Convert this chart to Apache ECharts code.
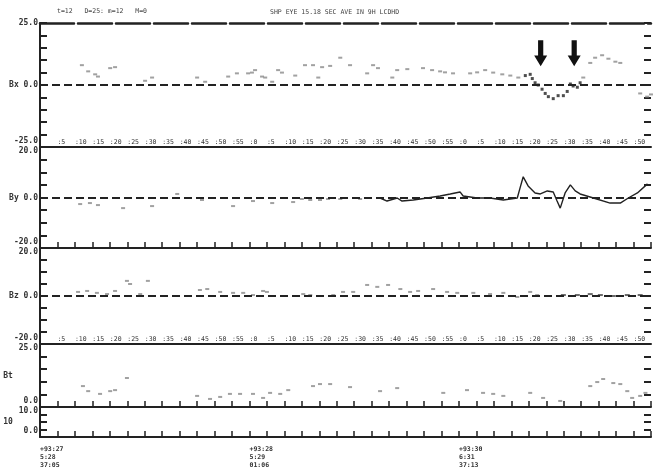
<!DOCTYPE html>
<html><head><meta charset="utf-8">
<script src="https://cdn.jsdelivr.net/npm/echarts@6/dist/echarts.min.js"></script>
<style>html,body{margin:0;padding:0;background:#fff}#c{width:659px;height:472px}</style>
</head><body><div id="c"></div>
<script>
// ---- data (time in minutes from plot start, values in nT) ----
const bxT = [12,13.8,15.8,16.6,20.1,21.5,30.1,32.1,45,47.3,53.9,56.4,59.6,60.7,61.6,63.6,64.5,66.5,68.2,69.3,73.1,75.9,78.2,79.7,80.8,83.1,86,88.8,93.7,95.4,96.8,100.9,102.3,105.2,109.7,112.3,114.6,116,118.3,123.2,125.2,127.5,129.8,132.4,134.7,137,155.6,157.6,159,161,162.8,164.8,166.2,171.9,173.9,175];
const bxV = [8,5.5,4.3,3.4,6.8,7.2,1.7,3,3,1.3,3.4,4.7,4.7,5,6,3.4,3,1.3,6,5,3.8,8,8,3,7.2,7.7,11,8,4.7,8,6.8,3,6,6.4,6.8,6,5.5,5.1,4.7,4.7,5.1,6,5,4.3,3.8,3,3,8.9,11,12,10.6,9.4,8.9,-3.4,-4.7,-3.8];
const bxDarkT = [139,140.4,141,141.8,142.7,143.8,144.7,145.6,147,148.4,149.9,151,151.9,152.7,153.9,154.7];
const bxDarkV = [3.8,4.3,2.6,0.9,0,-1.7,-3.4,-4.7,-5.5,-4.3,-4.3,-2.6,0.4,-0.4,-0.9,0.9];
const arrowT = [143.4,153];
const arrowV = [12.8,12.8];

const byT = [11.5,14.3,16.6,23.8,32.1,39.3,46.4,49.6,55.3,61,66.5,72.5,75,77.4,80.2,82.5,86,91.7];
const byV = [-2.6,-2.2,-3,-4.2,-3.4,1.4,-1,-0.2,-3.4,-1.4,-2.2,-1.8,-0.6,-1,-1,-0.6,-0.6,-0.6];
const byLineT = [97.4,99.4,102.3,103.7,106.9,110.9,114.6,117.5,120.3,121.2,125.2,128.9,132.7,136.7,137.5,138.4,139.8,141.8,143.3,145.3,147,148.1,149,150.4,151.9,153.3,154.7,158.5,163.3,166.2,168.5,171.1,174];
const byLineV = [-0.2,-1.4,-0.2,-1.4,-1,-0.2,0.6,1.4,2.2,0.6,-0.2,-0.2,-1,-0.2,3.8,8.2,4.6,1.8,1.4,2.6,2.2,-1.4,-4.2,1.8,5,2.6,1.4,-0.2,-2.2,-2.2,-0.2,1.8,5.4];

const bzT = [10.9,13.5,16.3,19.2,21.5,24.9,25.8,28.7,30.9,45.8,47.9,51.6,55.3,58.2,61,63.9,65,75.4,77.4,84,86.8,89.7,93.7,96.6,99.7,103.2,106,108.3,112.6,116.6,119.5,124.1,128.9,132.7,136.7,140.4,142.4];
const bzV = [1.7,2.1,1.3,0.8,2.1,6.3,5,0.8,6.3,2.5,2.9,1.7,1.3,1.3,0.4,2.1,1.7,0.8,0.4,0.4,1.7,1.7,4.6,3.8,4.6,2.9,1.7,2.1,2.9,1.7,1.3,1.3,0.8,1.3,-0.4,1.7,0.4];
const bzDarkT = [149.9,153.9,157.6,160.5,164.2,168.2,171.9];
const bzDarkV = [0.4,0.4,0.8,0.4,0,0.4,0.4];

const btT = [12.3,13.8,17.2,20.1,21.5,24.9,45,48.7,51.6,54.4,57.3,61,63.9,65.9,68.8,71.1,78.2,80.2,83.1,88.8,97.4,102.3,115.5,122.3,126.9,129.8,132.7,140.4,144.1,149,157.6,159.6,161.3,164.2,166.2,168.2,169.6,171.9,173.4];
const btV = [8.3,6.3,5.2,6.3,6.7,11.5,4.4,3.2,4,5.2,5.2,5.2,3.6,5.6,5.2,6.7,8.3,9.1,9.1,7.9,6.3,7.5,5.6,6.7,5.6,5.2,4.4,5.6,3.6,2.4,8.3,9.9,11.1,9.5,9.1,6.3,3.6,4.4,5.6];

// ---- axis texts ----
const header1 = 't=12   D=25: m=12   M=0';
const header2 = 'SHP EYE 15.18 SEC AVE IN 9H LCDHD';
const panelRanges = [[-25,25],[-20,20],[-20,20],[0,25],[0,10]];
const panelIntervals = [5,5,5,5,2.5];
const panelTickLabels = [
  {min:'-25.0', zero:'Bx 0.0', max:'25.0'},
  {min:'-20.0', zero:'By 0.0', max:'20.0'},
  {min:'-20.0', zero:'Bz 0.0', max:'20.0'},
  {min:'0.0', zero:null, max:'25.0'},
  {min:'0.0', zero:null, max:'10.0'}
];
const panelNames = ['', '', '', 'Bt', '10'];
const hourLabels = {0:'+93:27\n5:28\n37:05', 60:'+93:28\n5:29\n01:06', 120:'+93:30\n6:31\n37:13'};

const pairs = (t, v) => t.map((x, i) => [x, v[i]]);

const FONT = 'DejaVu Sans Mono';
const INK = '#222';
const grids = [
  {top:23, height:124},
  {top:147, height:101},
  {top:248, height:96},
  {top:344, height:63},
  {top:407, height:30}
].map(g => Object.assign({left:40, right:8}, g));

const xAxes = grids.map((g, i) => {
  const labelled = (i === 0 || i === 2);
  return {
    type:'value', gridIndex:i, min:0, max:175, interval:5, position:'bottom',
    axisLine:{show:true, onZero:false, lineStyle:{color:INK, width:2}},
    splitLine:{show:false},
    axisTick:{show: !labelled, inside:true, length:6, lineStyle:{color:INK, width:1.5}},
    axisLabel: labelled ? {
      show:true, inside:true, margin:1, align:'left', fontSize:6.5, fontFamily:FONT, color:'#333',
      formatter: v => (v <= 0 || v >= 175) ? '' : ':' + (v % 60)
    } : (i === 4 ? {
      show:true, margin:8, align:'left', fontSize:6.5, lineHeight:8, fontFamily:FONT, fontWeight:'bold', color:'#333',
      formatter: v => hourLabels[v] || ''
    } : {show:false})
  };
});
xAxes.push({
  type:'value', gridIndex:0, min:0, max:175, position:'top',
  axisLine:{show:true, onZero:false, lineStyle:{color:INK, width:2.5, type:[34,4]}},
  axisTick:{show:false}, axisLabel:{show:false}, splitLine:{show:false}
});

const yLeft = grids.map((g, i) => {
  const L = panelTickLabels[i];
  const [mn, mx] = panelRanges[i];
  return {
    type:'value', gridIndex:i, min:mn, max:mx, interval:panelIntervals[i], position:'left',
    name: panelNames[i], nameLocation:'middle', nameRotate:0, nameGap:22,
    nameTextStyle:{fontFamily:FONT, fontSize:8, fontWeight:'bold', color:'#333'},
    axisLine:{show:true, onZero:false, lineStyle:{color:INK, width:2}},
    axisTick:{show:true, inside:true, length:7, lineStyle:{color:INK, width:2}},
    splitLine:{show:false},
    axisLabel:{
      show:true, margin:2, fontSize:8, fontFamily:FONT, fontWeight:'bold', color:'#333',
      formatter: v => {
        if (v === mn) return '{lo|' + L.min + '}';
        if (v === mx) return i === 0 ? L.max : '{hi|' + L.max + '}';
        if (v === 0 && L.zero) return L.zero;
        return '';
      },
      rich:{
        lo:{padding:[0,0,12,0], fontSize:8, fontFamily:FONT, fontWeight:'bold', color:'#333'},
        hi:{padding:[7,0,0,0], fontSize:8, fontFamily:FONT, fontWeight:'bold', color:'#333'}
      }
    }
  };
});
const yRight = grids.map((g, i) => ({
  type:'value', gridIndex:i, min:panelRanges[i][0], max:panelRanges[i][1], interval:panelIntervals[i], position:'right',
  axisLine:{show:false, onZero:false}, splitLine:{show:false}, axisLabel:{show:false},
  axisTick:{show:true, inside:true, length:7, lineStyle:{color:INK, width:2}}
}));

const zeroLine = {
  silent:true, symbol:['none','none'], label:{show:false},
  lineStyle:{type:'dashed', width:2, color:INK},
  emphasis:{disabled:true},
  data:[{yAxis:0}]
};
const faint = {color:'#8a8a8a'};

const series = [
  {type:'scatter', xAxisIndex:0, yAxisIndex:0, data:pairs(bxT,bxV), symbol:'rect', symbolSize:[4,2], itemStyle:faint, markLine:zeroLine, silent:true},
  {type:'scatter', xAxisIndex:0, yAxisIndex:0, data:pairs(bxDarkT,bxDarkV), symbol:'rect', symbolSize:[3,3], itemStyle:{color:INK}, silent:true,
   markPoint:{symbol:'path://M3,0 L7,0 L7,13 L10,13 L5,22 L0,13 L3,13 Z', symbolSize:[13,26], itemStyle:{color:'#111'}, label:{show:false},
     data: arrowT.map((t,i) => ({coord:[t, arrowV[i]]}))}},
  {type:'scatter', xAxisIndex:1, yAxisIndex:1, data:pairs(byT,byV), symbol:'rect', symbolSize:[4,2], itemStyle:faint, markLine:zeroLine, silent:true},
  {type:'line', xAxisIndex:1, yAxisIndex:1, data:pairs(byLineT,byLineV), showSymbol:false, lineStyle:{color:INK, width:1.4}, silent:true},
  {type:'scatter', xAxisIndex:2, yAxisIndex:2, data:pairs(bzT,bzV), symbol:'rect', symbolSize:[4,2], itemStyle:faint, markLine:zeroLine, silent:true},
  {type:'scatter', xAxisIndex:2, yAxisIndex:2, data:pairs(bzDarkT,bzDarkV), symbol:'rect', symbolSize:[5,2], itemStyle:{color:'#444'}, silent:true},
  {type:'scatter', xAxisIndex:3, yAxisIndex:3, data:pairs(btT,btV), symbol:'rect', symbolSize:[4,2], itemStyle:faint, silent:true}
];

const chart = echarts.init(document.getElementById('c'), null, {renderer:'canvas'});
chart.setOption({
  animation:false,
  backgroundColor:'#fff',
  title:[
    {text:header1, left:52, top:3, textStyle:{fontFamily:FONT, fontSize:6.5, fontWeight:'normal', color:'#444'}},
    {text:header2, left:265, top:4, textStyle:{fontFamily:FONT, fontSize:6.5, fontWeight:'normal', color:'#444'}}
  ],
  grid:grids,
  xAxis:xAxes,
  yAxis:yLeft.concat(yRight),
  series:series
});
</script></body></html>
